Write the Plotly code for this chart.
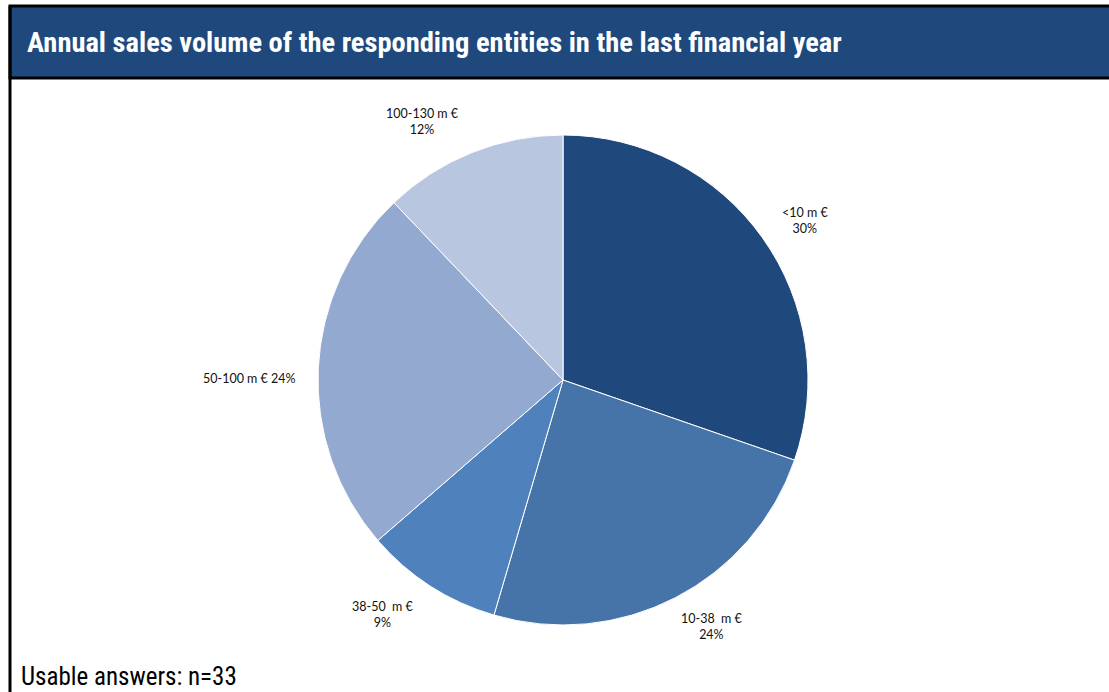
import math
import plotly.graph_objects as go

# Share of responding entities per annual sales band (n=33)
categories = ["<10 m €", "10-38  m €", "38-50  m €", "50-100 m €", "100-130 m €"]
shares = [30, 24, 9, 24, 12]
label_sep = ["<br>", "<br>", "<br>", " ", "<br>"]

colors = ["#1F497D", "#4674A8", "#4F81BD", "#94A9CF", "#B9C6E0"]
# label placement: angular nudge (deg) from slice mid-angle, radius factor
label_nudge = [2.0, -3.8, 4.8, -2.5, -6.8]
label_radius = [1.184, 1.177, 1.208, 1.278, 1.20]

W, H = 1109, 692
cx, cy, R = 563, 380, 245  # pie centre / radius in px

fig = go.Figure(
    go.Pie(
        labels=categories,
        values=shares,
        sort=False,
        direction="clockwise",
        rotation=0,
        marker=dict(colors=colors, line=dict(color="white", width=1)),
        textinfo="none",
        hovertemplate="%{label}: %{value}%<extra></extra>",
        showlegend=False,
        domain=dict(x=[(cx - R) / W, (cx + R) / W], y=[1 - (cy + R) / H, 1 - (cy - R) / H]),
    )
)

# Data labels placed outside each slice, around its mid-angle
total = sum(shares)
acc = 0
annotations = []
for cat, val, sep, nd, rf in zip(categories, shares, label_sep, label_nudge, label_radius):
    mid = (acc + val / 2) / total * 2 * math.pi + math.radians(nd)
    acc += val
    lx = cx + rf * R * math.sin(mid)
    ly = cy - rf * R * math.cos(mid)
    annotations.append(
        dict(
            x=lx / W, y=1 - ly / H, xref="paper", yref="paper",
            text=f"{cat}{sep}{val}%", showarrow=False,
            xanchor="center", yanchor="middle", align="center",
            font=dict(family="Lato, Carlito, Calibri, sans-serif", size=12.5, color="#111111"),
        )
    )

narrow = "Liberation Sans Narrow, Arial Narrow, Roboto Condensed, Roboto, Arial, sans-serif"
annotations.append(
    dict(
        x=25 / W, y=1 - 43 / H, xref="paper", yref="paper", showarrow=False,
        xanchor="left", yanchor="middle",
        text="<b>Annual sales volume of the responding entities in the last financial year</b>",
        font=dict(family=narrow, size=28.5, color="white"),
    )
)
annotations.append(
    dict(
        x=19 / W, y=1 - 676 / H, xref="paper", yref="paper", showarrow=False,
        xanchor="left", yanchor="middle",
        text="Usable answers: n=33",
        font=dict(family=narrow, size=25, color="black"),
    )
)

shapes = [
    # header band
    dict(type="rect", xref="paper", yref="paper",
         x0=10 / W, x1=1.01, y0=1 - 78 / H, y1=1 - 6 / H,
         fillcolor="#1F497D", line=dict(color="black", width=3), layer="below"),
    # left frame line
    dict(type="line", xref="paper", yref="paper",
         x0=10 / W, x1=10 / W, y0=-0.01, y1=1 - 6 / H,
         line=dict(color="black", width=3)),
]

fig.update_layout(
    width=W, height=H,
    margin=dict(l=0, r=0, t=0, b=0),
    paper_bgcolor="white", plot_bgcolor="white",
    annotations=annotations, shapes=shapes,
)

fig.write_html("out.html")
